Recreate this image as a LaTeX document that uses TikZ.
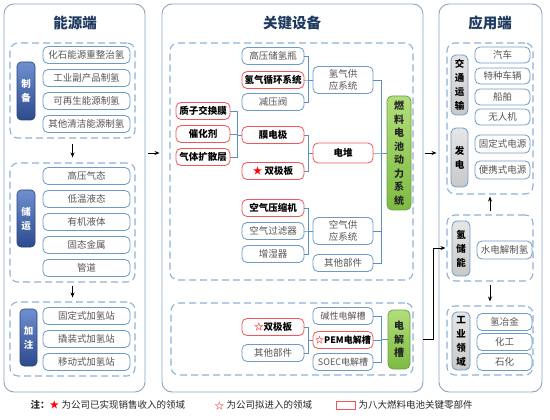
\documentclass[tikz,border=0pt]{standalone}
\usepackage{fontspec}
\setmainfont{Noto Sans CJK SC}
\usetikzlibrary{arrows.meta,calc}
\definecolor{panelc}{HTML}{8CA5C2}
\definecolor{dashblue}{HTML}{8DB3D8}
\definecolor{boxblue}{HTML}{6A9BCB}
\definecolor{redb}{HTML}{F2555A}
\definecolor{txtgray}{HTML}{555555}
\definecolor{navyt}{HTML}{6F8FD0}
\definecolor{navyb}{HTML}{2C4A8C}
\definecolor{navyd}{HTML}{2A4580}
\definecolor{greent}{HTML}{B2DE7A}
\definecolor{greenb}{HTML}{7CBB42}
\definecolor{greend}{HTML}{6E9F4A}
\definecolor{greyt}{HTML}{E6E6E6}
\definecolor{greyb}{HTML}{C8C8C8}
\definecolor{connc}{HTML}{5B8FC7}
\definecolor{titlec}{HTML}{1F3A60}
\begin{document}
\begin{tikzpicture}[x=1pt,y=-1pt,
  panel/.style={draw=panelc, line width=0.9pt, rounded corners=10pt, fill=white, inner sep=0pt},
  grp/.style={draw=dashblue, line width=1.1pt, dash pattern=on 7pt off 4pt, rounded corners=8pt, inner sep=0pt},
  itm/.style={draw=boxblue, line width=0.8pt, rounded corners=5pt, fill=white, text=txtgray, font=\fontsize{9.5}{10}\selectfont, inner sep=0pt, minimum height=17pt},
  keyb/.style={itm, draw=redb, text=black, font=\fontsize{9.5}{10}\selectfont\bfseries},
  navy/.style={draw=navyd, line width=0.6pt, rounded corners=4pt, top color=navyt, bottom color=navyb, text=white, font=\fontsize{9.5}{14}\selectfont\bfseries, inner sep=0pt, align=center},
  greyp/.style={draw=boxblue, line width=0.8pt, rounded corners=5pt, top color=greyt, bottom color=greyb, text=black, font=\fontsize{9.5}{14}\selectfont\bfseries, inner sep=0pt, align=center},
  greenbox/.style={draw=greend, line width=0.8pt, rounded corners=5pt, top color=greent, bottom color=greenb, text=black!85, font=\fontsize{10}{13.5}\selectfont\bfseries, inner sep=0pt, align=center},
  conn/.style={draw=connc, line width=0.7pt},
  arr/.style={-{Stealth[length=5pt,width=4pt]}, line width=0.8pt, black},
  ttl/.style={text=titlec, font=\fontsize{14.5}{16}\selectfont\bfseries},
  lg/.style={anchor=west, text=black!85, font=\fontsize{9.5}{11}\selectfont}
]
\useasboundingbox (0,0) rectangle (550,420);

% ---------- panels ----------
\node[panel, minimum width=141pt, minimum height=388pt] (P1) at (74.5,198) {};
\node[panel, minimum width=261pt, minimum height=388pt] (P2) at (292.5,198) {};
\node[panel, minimum width=103pt, minimum height=388pt] (P3) at (490.5,198) {};
\node[ttl] (T1) at (75,23) {能源端};
\node[ttl] (T2) at (292,23) {关键设备};
\node[ttl] (T3) at (490,23) {应用端};

% ---------- left panel ----------
\node[grp, minimum width=125pt, minimum height=95pt] (G1) at (72.5,90.5) {};
\node[grp, minimum width=125pt, minimum height=119pt] (G2) at (72.5,222.5) {};
\node[grp, minimum width=125pt, minimum height=74pt] (G3) at (72.5,339) {};

\node[navy, minimum width=18pt, minimum height=58pt] (L1) at (26,91) {制\\备};
\node[navy, minimum width=18pt, minimum height=57pt] (L2) at (26,218.5) {储\\运};
\node[navy, minimum width=17pt, minimum height=57pt] (L3) at (28.5,337.5) {加\\注};

\node[itm, minimum width=87pt] (a1) at (86.5,55) {化石能源重整治氢};
\node[itm, minimum width=87pt] (a2) at (86.5,78) {工业副产品制氢};
\node[itm, minimum width=87pt] (a3) at (86.5,101) {可再生能源制氢};
\node[itm, minimum width=87pt] (a4) at (86.5,124) {其他清洁能源制氢};

\node[itm, minimum width=87pt] (b1) at (86.5,176) {高压气态};
\node[itm, minimum width=87pt] (b2) at (86.5,199) {低温液态};
\node[itm, minimum width=87pt] (b3) at (86.5,222) {有机液体};
\node[itm, minimum width=87pt] (b4) at (86.5,245) {固态金属};
\node[itm, minimum width=87pt] (b5) at (86.5,268) {管道};

\node[itm, minimum width=87pt] (c1) at (86.5,316) {固定式加氢站};
\node[itm, minimum width=87pt] (c2) at (86.5,339) {撬装式加氢站};
\node[itm, minimum width=87pt] (c3) at (86.5,362) {移动式加氢站};

\draw[arr, shorten <=5pt, shorten >=5pt] (G1.south) -- (G2.north);
\draw[arr, shorten <=3pt, shorten >=4pt] (G2.south) -- (G3.north);

% ---------- middle panel ----------
\node[grp, minimum width=243pt, minimum height=237pt] (U) at (291.5,161.5) {};
\node[grp, minimum width=242pt, minimum height=72pt] (D) at (292,339) {};

\node[keyb, minimum width=54pt] (m1) at (203,111) {质子交换膜};
\node[keyb, minimum width=54pt] (m2) at (203,134) {催化剂};
\node[keyb, minimum width=54pt] (m3) at (203,157) {气体扩散层};

\node[itm, minimum width=62pt] (h1) at (273,56) {高压储氢瓶};
\node[keyb, minimum width=62pt] (h2) at (273,80) {氢气循环系统};
\node[itm, minimum width=62pt] (h3) at (273,102) {减压阀};
\node[keyb, minimum width=62pt] (s1) at (273,135) {膜电极};
\node[keyb, minimum width=62pt] (s2) at (273,171) {\textcolor{red}{★} 双极板};
\node[keyb, minimum width=62pt] (k1) at (273,208) {空气压缩机};
\node[itm, minimum width=62pt] (k2) at (273,231) {空气过滤器};
\node[itm, minimum width=62pt] (k3) at (273,254) {增湿器};

\node[itm, minimum width=60pt, minimum height=27pt, align=center, font=\fontsize{9.5}{12}\selectfont] (H) at (343,80) {氢气供\\应系统};
\node[keyb, minimum width=60pt, minimum height=20pt] (S) at (343,153) {电堆};
\node[itm, minimum width=60pt, minimum height=27pt, align=center, font=\fontsize{9.5}{12}\selectfont] (K) at (343,231) {空气供\\应系统};
\node[itm, minimum width=60pt] (O) at (343,263) {其他部件};

\node[greenbox, minimum width=24pt, minimum height=114pt] (FC) at (399,153) {燃\\料\\电\\池\\动\\力\\系\\统};

\coordinate (bx1) at (237,0);
\coordinate (bx2) at (308,0);
\coordinate (bx3) at (381,0);

\foreach \n in {m1,m2,m3} \draw[conn] (\n.east) -- (\n.east -| bx1) |- (s1.west);
\foreach \n in {h1,h2,h3} \draw[conn] (\n.east) -- (\n.east -| bx2) |- (H.west);
\foreach \n in {s1,s2} \draw[conn] (\n.east) -- (\n.east -| bx2) |- (S.west);
\foreach \n in {k1,k2,k3} \draw[conn] (\n.east) -- (\n.east -| bx2) |- (K.west);
\foreach \n in {H,S,K,O} \draw[conn] (\n.east) -- (\n.east -| bx3) |- (FC.west);

% lower group
\node[keyb, minimum width=62pt] (e1) at (273,327) {\textcolor{red}{☆}双极板};
\node[itm, minimum width=62pt] (e2) at (273,353) {其他部件};
\node[itm, minimum width=60pt, font=\fontsize{9}{10}\selectfont] (j1) at (343,316) {碱性电解槽};
\node[keyb, minimum width=60pt, font=\fontsize{9}{10}\selectfont\bfseries] (j2) at (343,340) {\textcolor{red}{☆}PEM电解槽};
\node[itm, minimum width=60pt, font=\fontsize{9}{10}\selectfont] (j3) at (343,362) {SOEC电解槽};
\node[greenbox, minimum width=22pt, minimum height=59pt] (EL) at (399,339.5) {电\\解\\槽};

\foreach \n in {e1,e2} \draw[conn] (\n.east) -- (\n.east -| bx2) |- (j2.west);
\foreach \n in {j1,j2,j3} \draw[conn] (\n.east) -- (\n.east -| bx3) |- (EL.west);

% ---------- right panel ----------
\node[grp, minimum width=86pt, minimum height=151pt] (R1) at (490,118.5) {};
\node[grp, minimum width=86pt, minimum height=66pt] (R2) at (490,248) {};
\node[grp, minimum width=86pt, minimum height=69pt] (R3) at (490,340.5) {};

\node[greyp, minimum width=17pt, minimum height=60pt] (Tr) at (459.5,85) {交\\通\\运\\输};
\node[greyp, minimum width=17pt, minimum height=59pt] (Fd) at (459.5,157.5) {发\\电};
\node[greyp, minimum width=18pt, minimum height=55pt] (Qc) at (461,248.5) {氢\\储\\能};
\node[greyp, minimum width=18pt, minimum height=58pt] (Gy) at (461,341) {工\\业\\领\\域};

\node[itm, minimum width=55pt, minimum height=16pt] (r1) at (502.5,55) {汽车};
\node[itm, minimum width=55pt, minimum height=16pt] (r2) at (502.5,76) {特种车辆};
\node[itm, minimum width=55pt, minimum height=16pt] (r3) at (502.5,97) {船舶};
\node[itm, minimum width=55pt, minimum height=16pt] (r4) at (502.5,117) {无人机};
\node[itm, minimum width=55pt, minimum height=18pt] (r5) at (502.5,144) {固定式电源};
\node[itm, minimum width=55pt, minimum height=18pt] (r6) at (502.5,170) {便携式电源};
\node[itm, minimum width=55pt, minimum height=18pt] (r7) at (504.5,250) {水电解制氢};
\node[itm, minimum width=55pt] (r8) at (504.5,322) {氢冶金};
\node[itm, minimum width=55pt] (r9) at (504.5,342) {化工};
\node[itm, minimum width=55pt] (r10) at (504.5,362) {石化};

\draw[arr, shorten <=3pt, shorten >=2pt] (R2.north) -- (R1.south);
\draw[arr, shorten <=3pt, shorten >=4pt] (R2.south) -- (R3.north);

% ---------- panel arrows ----------
\draw[arr, shorten <=3pt, shorten >=2pt] (P1.east |- S.center) -- (P2.west |- S.center);
\draw[arr, shorten <=2pt, shorten >=2pt] (P2.east |- S.center) -- (P3.west |- S.center);
\draw[arr, shorten >=1pt] (P2.east |- EL.center) -- ++(10,0) |- (R2.west);

% ---------- legend ----------
\node[lg, font=\fontsize{9.5}{11}\selectfont\bfseries] (n0) at (27,405) {注：};
\node[lg, text=red] (n1) at (46,405) {★};
\node[lg] (n2) at (58,405) {为公司已实现销售收入的领域};
\node[lg, text=red] (n3) at (211,406) {☆};
\node[lg] (n4) at (223,405) {为公司拟进入的领域};
\node[draw=redb, line width=0.8pt, minimum width=19pt, minimum height=8pt, inner sep=0pt] (n5) at (345.5,405) {};
\node[lg] (n6) at (355,405) {为八大燃料电池关键零部件};
\end{tikzpicture}
\end{document}
